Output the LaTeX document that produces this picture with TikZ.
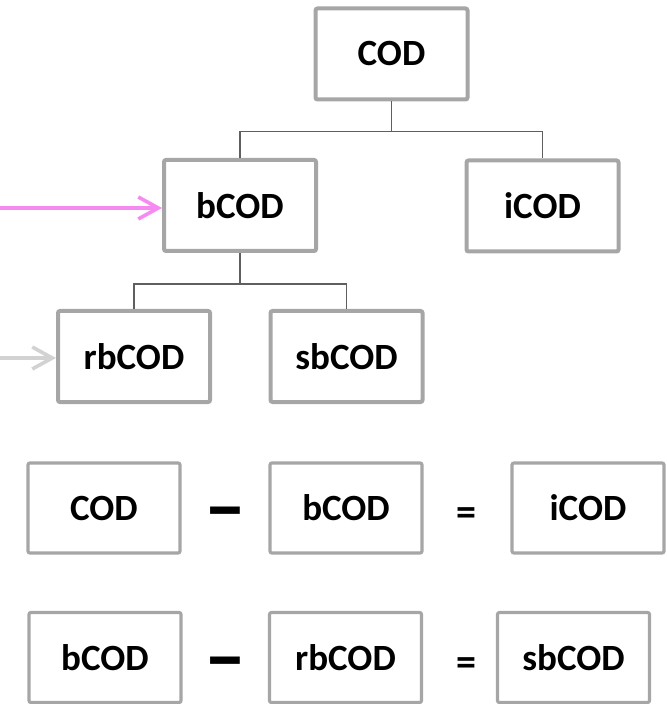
\documentclass[tikz,border=0pt]{standalone}
\usepackage{fontspec}
\setmainfont{Carlito}
\usepackage{tikz}
\usetikzlibrary{arrows.meta, calc, positioning}
\definecolor{boxgray}{HTML}{A6A6A6}
\definecolor{linkgray}{HTML}{5F5F5F}
\definecolor{pinkarrow}{HTML}{F78AF0}
\definecolor{lightarrow}{HTML}{D2D2D2}

\begin{document}
\begin{tikzpicture}[x=0.5pt,y=-0.5pt,
  box/.style={draw=boxgray, line width=2pt, rounded corners=1pt, minimum width=76pt, minimum height=45.5pt, inner sep=0pt, font=\fontsize{18.5}{22}\selectfont\bfseries},
  sumbox/.style={box, line width=1.6pt, minimum height=45pt},
  sign/.style={inner sep=0pt, font=\fontsize{20}{22}\selectfont\bfseries},
  minus/.style={inner sep=0pt, font=\fontsize{42}{42}\selectfont\bfseries},
  link/.style={draw=linkgray, line width=0.85pt},
  feed/.style={line width=1.8pt, -{Straight Barb[length=10pt,width=11pt,line width=1.8pt]}}]
\useasboundingbox (0,0) rectangle (666,704);
% tree
\node[box] at (391.5,54) (COD) {COD};
\node[box] at (240,205.5) (bCOD) {bCOD};
\node[box] at (542.5,206) (iCOD) {iCOD};
\node[box] at (134,356.5) (rbCOD) {rbCOD};
\node[box] at (346.5,356.5) (sbCOD) {sbCOD};
\draw[link] (COD.south) -- ++(0,30) coordinate (j1);
\draw[link] (bCOD.north) |- (j1) -| (iCOD.north);
\draw[link] (bCOD.south) -- ++(0,31) coordinate (j2);
\draw[link] (rbCOD.north) |- (j2) -| (sbCOD.north);
% incoming arrows
\coordinate (p0) at (0,208);
\coordinate (g0) at (0,358);
\draw[feed, pinkarrow] (p0) -- (bCOD.west |- p0);
\draw[feed, lightarrow] (g0) -- (rbCOD.west |- g0);
% first equation
\node[sumbox] at (104,508) (A1) {COD};
\node[sumbox] at (346,508) (B1) {bCOD};
\node[sumbox] at (588,508) (C1) {iCOD};
\node[minus] at (225,521) (m1) {–};
\node[sign] at (466,517) (e1) {=};
% second equation
\node[sumbox] at (105,657.5) (A2) {bCOD};
\node[sumbox] at (345.5,657.5) (B2) {rbCOD};
\node[sumbox] at (573.5,657.5) (C2) {sbCOD};
\node[minus] at (225,671) (m2) {–};
\node[sign] at (466,667) (e2) {=};
\end{tikzpicture}
\end{document}
